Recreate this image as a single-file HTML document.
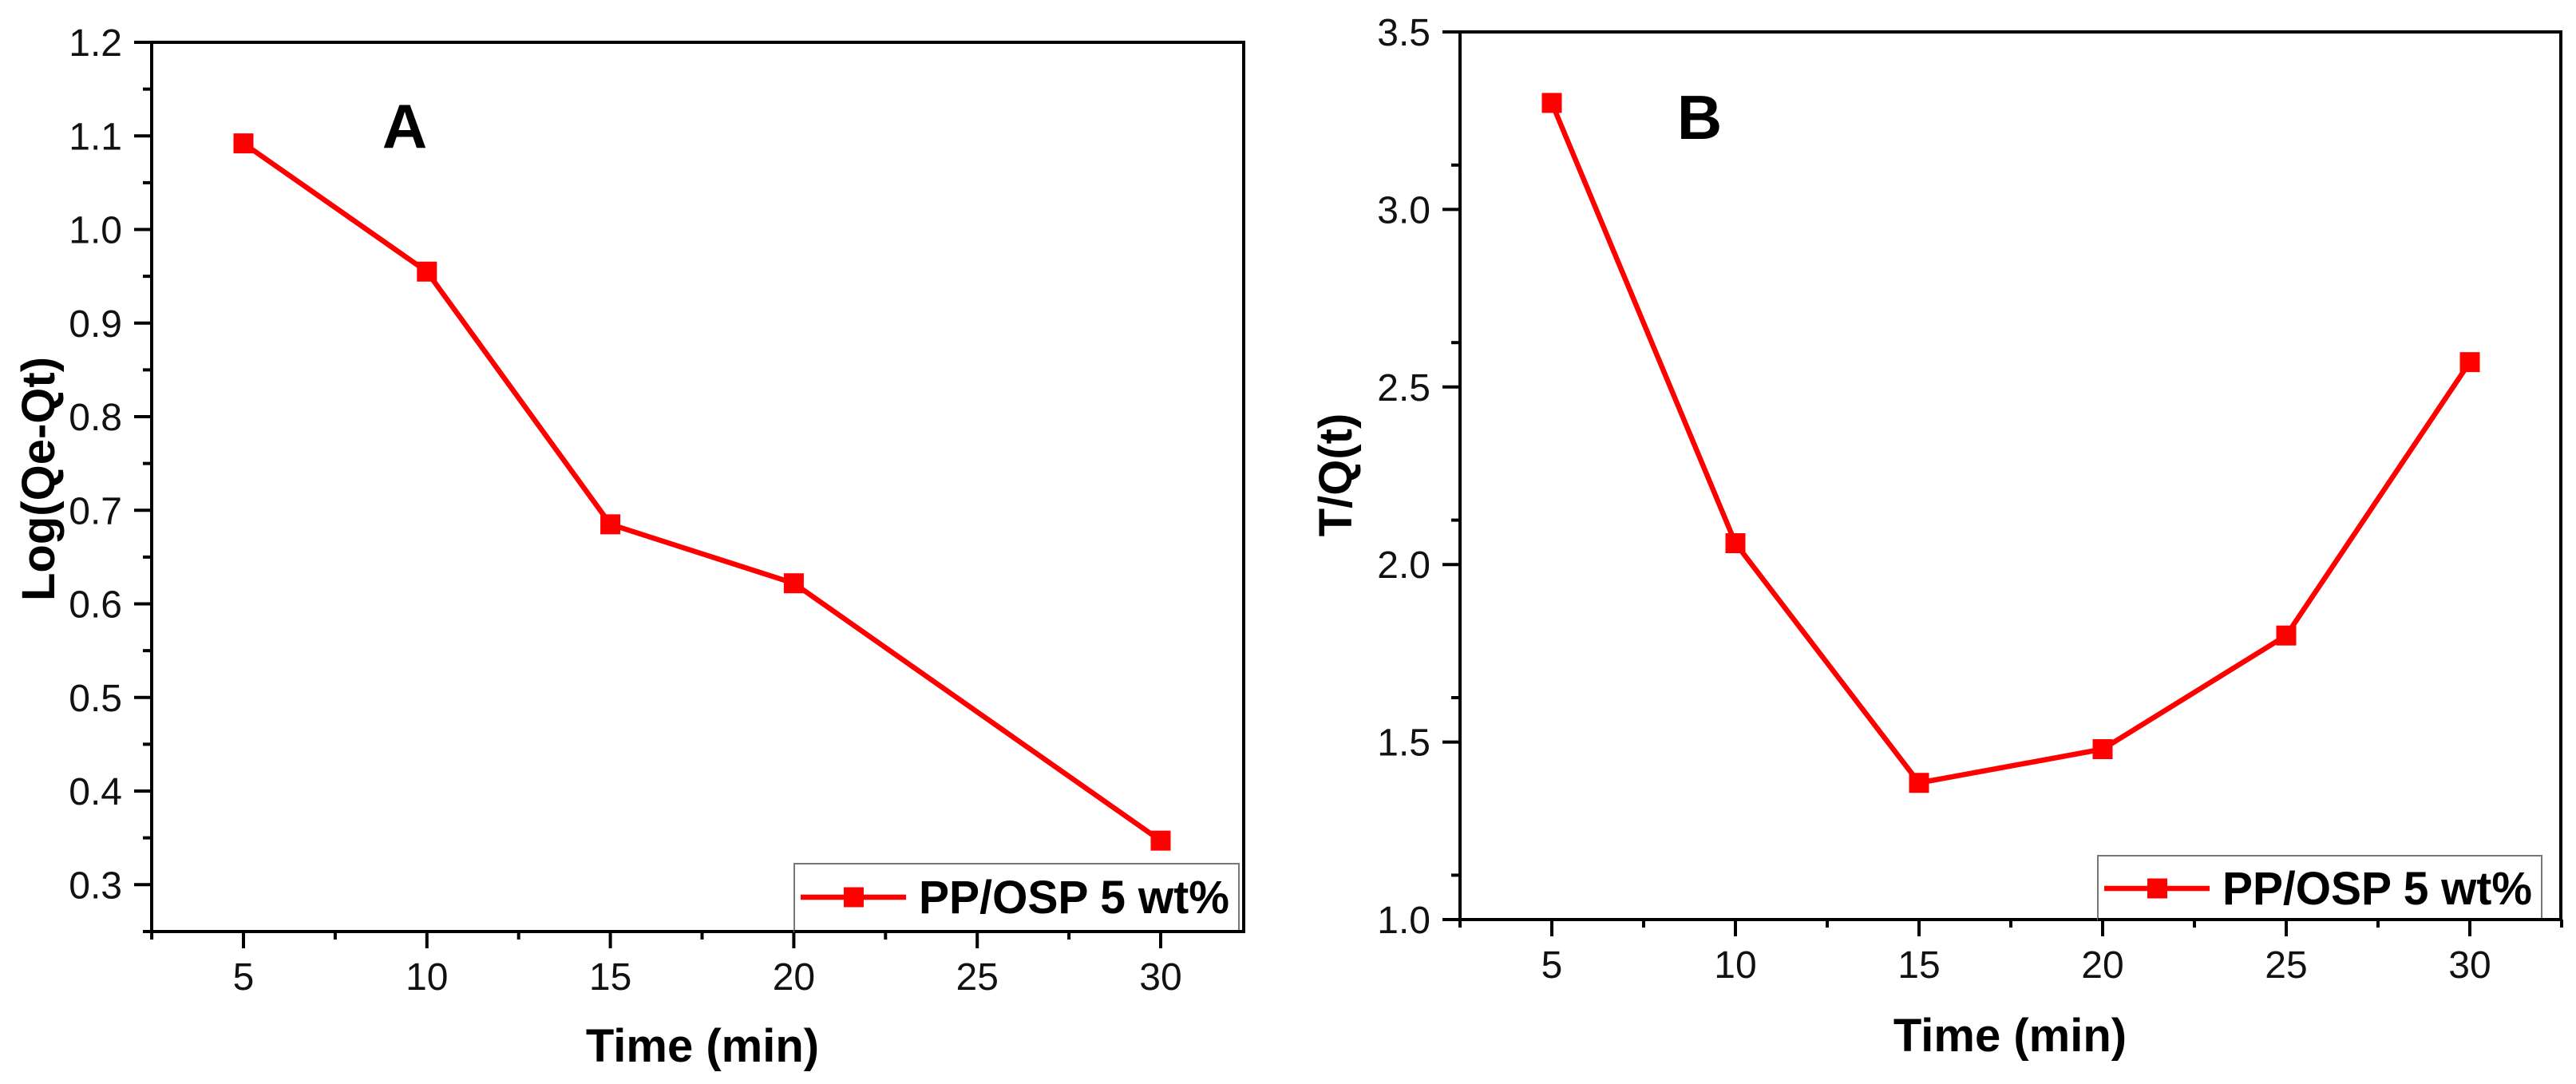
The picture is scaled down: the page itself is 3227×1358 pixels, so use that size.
<!DOCTYPE html>
<html><head><meta charset="utf-8"><style>
html,body{margin:0;padding:0;background:#fff;}
svg{display:block;font-family:"Liberation Sans",Arial,sans-serif;}
</style></head><body>
<svg id="fig" width="3227" height="1358" viewBox="0 0 3227 1358" xmlns="http://www.w3.org/2000/svg">
<rect width="3227" height="1358" fill="#fff"/>
</svg>
<script>
// Chart A data
const timesA = [5, 10, 15, 20, 30];
const valuesA = [1.092, 0.955, 0.685, 0.622, 0.347];
const yTicksA = [0.3, 0.4, 0.5, 0.6, 0.7, 0.8, 0.9, 1.0, 1.1, 1.2];
const xTicks = [5, 10, 15, 20, 25, 30];
// Chart B data
const timesB = [5, 10, 15, 20, 25, 30];
const valuesB = [3.30, 2.06, 1.385, 1.48, 1.80, 2.57];
const yTicksB = [1.0, 1.5, 2.0, 2.5, 3.0, 3.5];
const legendLabel = "PP/OSP 5 wt%";

const NS = "http://www.w3.org/2000/svg";
const svg = document.getElementById('fig');
function el(tag, attrs, parent, text){
  const e = document.createElementNS(NS, tag);
  for (const k in attrs) e.setAttribute(k, attrs[k]);
  if (text !== undefined) e.textContent = text;
  (parent || svg).appendChild(e);
  return e;
}

function drawChart(cfg){
  const g = el('g', {});
  
  
  const xs = v => cfg.x0px + (v - cfg.x0v) * cfg.xk;
  const ys = v => cfg.y0px - (v - cfg.y0v) * cfg.yk;
  const frame = el('rect', {x:cfg.L, y:cfg.T, width:cfg.R-cfg.L, height:cfg.B-cfg.T, fill:'none', stroke:'#000', 'stroke-width':4}, g);
  
  
  cfg.yTicks.forEach((v, i) => {
    const y = ys(v);
    const t = el('line', {x1:cfg.L-22, x2:cfg.L, y1:y, y2:y, stroke:'#000', 'stroke-width':4}, g);
    
    
    const lb = el('text', {x:cfg.L-37, y:y+17, 'text-anchor':'end', 'font-size':48, fill:'#111'}, g, v.toFixed(1));
    
    
    if (i < cfg.yTicks.length - 1) {
      const ym = ys(v + cfg.yStep/2);
      const m = el('line', {x1:cfg.L-11, x2:cfg.L, y1:ym, y2:ym, stroke:'#000', 'stroke-width':4}, g);
      
      
    }
  });
  const ymb = ys(cfg.yTicks[0] - cfg.yStep/2);
  if (ymb <= cfg.B + 1) {
    const m = el('line', {x1:cfg.L-11, x2:cfg.L, y1:cfg.B, y2:cfg.B, stroke:'#000', 'stroke-width':4}, g);
    
    
  }
  xTicks.forEach(v => {
    const x = xs(v);
    const t = el('line', {x1:x, x2:x, y1:cfg.B, y2:cfg.B+21, stroke:'#000', 'stroke-width':4}, g);
    
    
    const lb = el('text', {x:x, y:cfg.B+73, 'text-anchor':'middle', 'font-size':48, fill:'#111'}, g, String(v));
    
    
  });
  [2.5, 7.5, 12.5, 17.5, 22.5, 27.5, 32.5].forEach(v => {
    const x = xs(v);
    if (x < cfg.L - 1 || x > cfg.R + 1) return;
    const m = el('line', {x1:x, x2:x, y1:cfg.B, y2:cfg.B+10, stroke:'#000', 'stroke-width':4}, g);
    
    
  });
  const xt = el('text', {x:cfg.xTitleX, y:cfg.xTitleY, 'text-anchor':'middle', 'font-size':58, 'font-weight':'bold', fill:'#000'}, g, 'Time (min)');
  
  
  const yt = el('text', {x:0, y:0, 'text-anchor':'middle', 'font-size':58, 'font-weight':'bold', fill:'#000', transform:`translate(${cfg.yTitleX},${cfg.yTitleY}) rotate(-90)`}, g, cfg.yTitle);
  
  
  const pl = el('text', {x:cfg.panelX, y:cfg.panelY, 'text-anchor':'middle', 'font-size':78, 'font-weight':'bold', fill:'#000'}, g, cfg.panel);
  
  
  const pts = cfg.times.map((t, i) => xs(t) + ',' + ys(cfg.values[i])).join(' ');
  const line = el('polyline', {points:pts, fill:'none', stroke:'#ff0000', 'stroke-width':6.5, 'stroke-linejoin':'round'}, g);
  
  
  cfg.times.forEach((t, i) => {
    const m = el('rect', {x:xs(t)-12.5, y:ys(cfg.values[i])-12.5, width:25, height:25, fill:'#ff0000'}, g);
    
    
  });
  const lg = el('g', {}, g);
  
  
  el('rect', {x:cfg.lgL, y:cfg.lgT, width:cfg.lgR-cfg.lgL, height:cfg.B-cfg.lgT, fill:'#fff', stroke:'#777', 'stroke-width':2}, lg);
  el('line', {x1:cfg.lgL, x2:cfg.R, y1:cfg.B, y2:cfg.B, stroke:'#000', 'stroke-width':4}, lg);
  const ll = el('line', {x1:cfg.lgL+8, x2:cfg.lgL+140, y1:cfg.lgY, y2:cfg.lgY, stroke:'#ff0000', 'stroke-width':6.5}, lg);
  
  
  const lm = el('rect', {x:cfg.lgL+62, y:cfg.lgY-12.5, width:25, height:25, fill:'#ff0000'}, lg);
  
  
  const lt = el('text', {x:cfg.lgL+156, y:cfg.lgY+20, 'font-size':58, 'font-weight':'bold', fill:'#000', textLength:cfg.lgR-cfg.lgL-168, lengthAdjust:'spacingAndGlyphs'}, lg, legendLabel);
  
  
}

drawChart({name:'chart-a', L:190, R:1558, T:53, B:1167,
  x0px:305, x0v:5, xk:229.8/5, y0px:53, y0v:1.2, yk:1172.5,
  yTicks:yTicksA, yStep:0.1, times:timesA, values:valuesA,
  xTitleX:880, xTitleY:1330, yTitle:'Log(Qe-Qt)', yTitleX:68, yTitleY:600,
  panel:'A', panelX:507, panelY:185,
  lgL:995, lgR:1552, lgT:1082, lgY:1124});

drawChart({name:'chart-b', L:1829, R:3208, T:40, B:1152,
  x0px:1944, x0v:5, xk:230/5, y0px:1152, y0v:1.0, yk:444.8,
  yTicks:yTicksB, yStep:0.25, times:timesB, values:valuesB,
  xTitleX:2518, xTitleY:1317, yTitle:'T/Q(t)', yTitleX:1693, yTitleY:595,
  panel:'B', panelX:2129, panelY:174,
  lgL:2628, lgR:3184, lgT:1072, lgY:1113});
</script>
</body></html>
